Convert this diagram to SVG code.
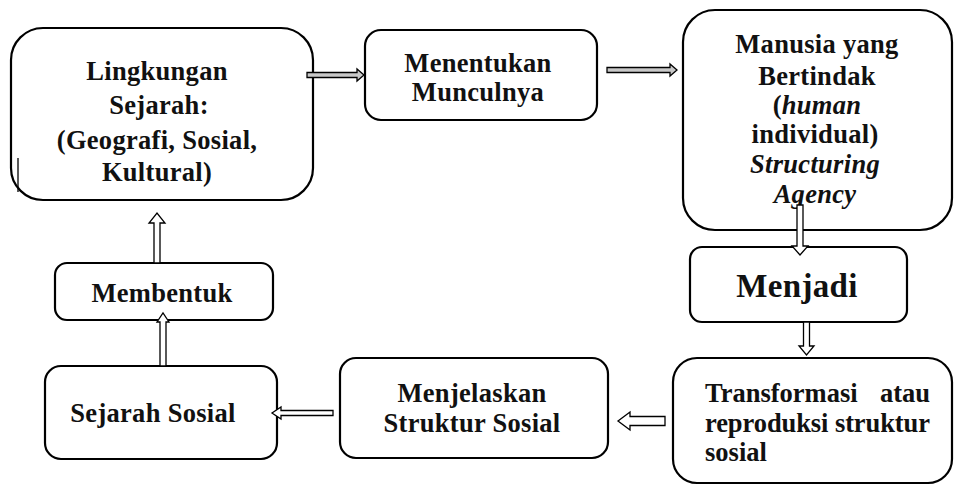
<svg xmlns="http://www.w3.org/2000/svg" width="954" height="485" viewBox="0 0 954 485">
<style>
.box{fill:#fff;stroke:#000;stroke-width:2.2}
.t{font-family:"Liberation Serif","Times New Roman",serif;font-weight:bold;font-size:26.5px;fill:#111;text-anchor:middle;letter-spacing:0.3px}
.l{text-anchor:start;letter-spacing:0}
.it{font-style:italic}
.arr{fill:#c8c8c8;stroke:#000;stroke-width:1.3;stroke-linejoin:miter}
.arrw{fill:#fff;stroke:#000;stroke-width:1.3}
</style>
<rect width="954" height="485" fill="#fff"/>
<g id="n-lingkungan">
<rect class="box" x="11" y="28" width="302" height="172" rx="32"/>
<line x1="18" y1="158" x2="18" y2="192" stroke="#000" stroke-width="1.3"/>
<text class="t" x="157" y="80">Lingkungan</text>
<text class="t" x="159" y="114">Sejarah:</text>
<text class="t" x="157" y="149">(Geografi, Sosial,</text>
<text class="t" x="157" y="181">Kultural)</text>
</g>
<g id="n-menentukan">
<rect class="box" x="365" y="30" width="232" height="90" rx="16"/>
<text class="t" x="478" y="72">Menentukan</text>
<text class="t" x="478" y="101">Munculnya</text>
</g>
<g id="n-manusia">
<rect class="box" x="683" y="10" width="269" height="220" rx="32"/>
<text class="t" x="817" y="53">Manusia yang</text>
<text class="t" x="817" y="85">Bertindak</text>
<text class="t" x="817" y="114">(<tspan class="it">human</tspan></text>
<text class="t" x="815" y="143">individual)</text>
<text class="t it" x="815" y="173">Structuring</text>
<text class="t it" x="815" y="203">Agency</text>
</g>
<g id="n-menjadi">
<rect class="box" x="690" y="247" width="217" height="75" rx="12"/>
<text class="t" x="797" y="297" style="font-size:33px">Menjadi</text>
</g>
<g id="n-transformasi">
<rect class="box" x="673" y="358" width="279" height="125" rx="24"/>
<text class="t l" x="705" y="402">Transformasi</text>
<text class="t" x="930" y="402" style="text-anchor:end;letter-spacing:0">atau</text>
<text class="t l" x="705" y="432" textLength="225" lengthAdjust="spacing">reproduksi struktur</text>
<text class="t l" x="705" y="461">sosial</text>
</g>
<g id="n-menjelaskan">
<rect class="box" x="340" y="358" width="268" height="100" rx="16"/>
<text class="t" x="472" y="402">Menjelaskan</text>
<text class="t" x="472" y="432">Struktur Sosial</text>
</g>
<g id="n-sejarah">
<rect class="box" x="45" y="366" width="232" height="93" rx="16"/>
<text class="t" x="153" y="422">Sejarah Sosial</text>
</g>
<g id="n-membentuk">
<rect class="box" x="55" y="263" width="218" height="57" rx="12"/>
<text class="t" x="162" y="302">Membentuk</text>
</g>
<g id="connectors">
<polygon class="arr" points="307,72.5 357,72.5 357,69 364,75 357,81 357,77.5 307,77.5"/>
<polygon class="arr" points="607,67.5 670,67.5 670,64 677,70 670,76 670,72.5 607,72.5"/>
<polygon class="arrw" points="797,205 803,205 803,246 808,246 800,255 792,246 797,246"/>
<polygon class="arrw" points="803.5,322 809.5,322 809.5,346 814,346 806.5,355 799,346 803.5,346"/>
<polygon class="arrw" points="665,416.5 630,416.5 630,412 618,421 630,430 630,425.5 665,425.5"/>
<polygon class="arrw" points="333,410.5 281,410.5 281,407 272,413 281,419 281,415.5 333,415.5"/>
<polygon class="arrw" points="160,366 166,366 166,322 169,322 163,313 157,322 160,322"/>
<polygon class="arrw" points="154,263 160,263 160,223 165,223 157,213 149,223 154,223"/>
</g>
</svg>
